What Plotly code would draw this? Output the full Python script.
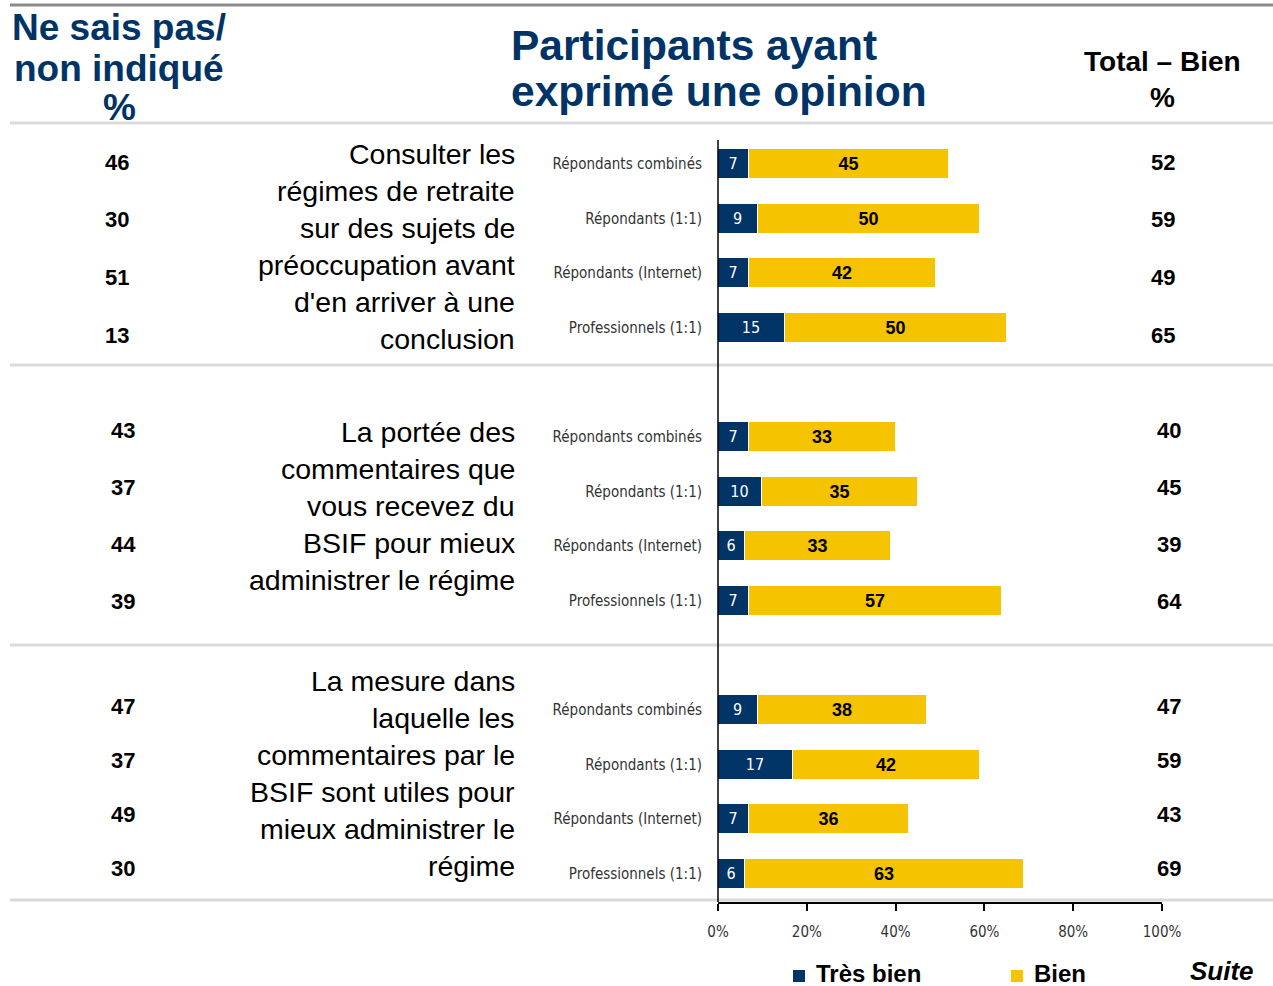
import plotly.graph_objects as go

# ---- data -------------------------------------------------------------
categories = ["Répondants combinés", "Répondants (1:1)",
              "Répondants (Internet)", "Professionnels (1:1)"]

questions = [
    ["Consulter les", "régimes de retraite", "sur des sujets de",
     "préoccupation avant", "d'en arriver à une", "conclusion"],
    ["La portée des", "commentaires que", "vous recevez du",
     "BSIF pour mieux", "administrer le régime"],
    ["La mesure dans", "laquelle les", "commentaires par le",
     "BSIF sont utiles pour", "mieux administrer le", "régime"],
]

tres_bien = [[7, 9, 7, 15], [7, 10, 6, 7], [9, 17, 7, 6]]
bien = [[45, 50, 42, 50], [33, 35, 33, 57], [38, 42, 36, 63]]
ne_sais_pas = [[46, 30, 51, 13], [43, 37, 44, 39], [47, 37, 49, 30]]
total_bien = [[52, 59, 49, 65], [40, 45, 39, 64], [47, 59, 43, 69]]

series_names = ["Très bien", "Bien"]

x_ticks = [0, 20, 40, 60, 80, 100]
x_tick_labels = ["0%", "20%", "40%", "60%", "80%", "100%"]

# ---- styling / geometry -------------------------------------------------
W, H = 1273, 986
NAVY = "#003366"
YELLOW = "#F6C300"
SEP = "#dadada"
ARIAL = "Liberation Sans, Arial, sans-serif"
NARROW = "DejaVu Sans Condensed, Liberation Sans Narrow, sans-serif"

AXIS_BOTTOM = 902          # pixel row of the x axis
X0, X100 = 718, 1162       # pixel columns of 0% and 100%


def px(x):
    return x / W


def py(y):
    return 1 - y / H


# bar rows (pixel rows inside the y axis, which runs top-down in pixels)
group_top = [164, 437, 710]
row_step = 54.5
bar_y = [[g + i * row_step for i in range(4)] for g in group_top]

flat_y = [y for g in bar_y for y in g]
flat_tb = [v for g in tres_bien for v in g]
flat_b = [v for g in bien for v in g]
flat_cat = [c for _ in range(3) for c in categories]

fig = go.Figure()
fig.add_trace(go.Bar(
    name=series_names[0], orientation="h", y=flat_y, x=flat_tb, width=30,
    marker=dict(color=NAVY, line=dict(color="white", width=1)),
    text=flat_tb, textposition="inside", insidetextanchor="middle",
    constraintext="none",
    textfont=dict(family=NARROW, size=16, color="white"),
))
fig.add_trace(go.Bar(
    name=series_names[1], orientation="h", y=flat_y, x=flat_b, width=30,
    marker=dict(color=YELLOW, line=dict(color="white", width=1)),
    text=flat_b, textposition="inside", insidetextanchor="middle",
    constraintext="none",
    textfont=dict(family=ARIAL, size=18, color="black", weight="bold"),
))

fig.update_layout(
    width=W, height=H, margin=dict(l=0, r=0, t=0, b=0, autoexpand=False),
    paper_bgcolor="white", plot_bgcolor="white",
    barmode="stack", bargap=0, showlegend=False,
    xaxis=dict(
        domain=[px(X0), px(X100)], range=[0, 100], fixedrange=True,
        tickvals=x_ticks, ticktext=x_tick_labels,
        showgrid=False, zeroline=False,
        showline=True, linecolor="black", linewidth=1.5,
        ticks="outside", ticklen=7, tickcolor="black", tickwidth=1.5,
        ticklabelstandoff=8,
        tickfont=dict(family=NARROW, size=15, color="#333333"),
    ),
    yaxis=dict(
        domain=[1 - AXIS_BOTTOM / H, 1], range=[AXIS_BOTTOM, 0],
        fixedrange=True,
        tickvals=flat_y, ticktext=flat_cat,
        showgrid=False, zeroline=False, showline=False, ticks="",
        ticklabelstandoff=15,
        tickfont=dict(family=NARROW, size=15, color="#333333"),
    ),
)

shapes = []
# top rule and section separators
shapes.append(dict(type="line", xref="paper", yref="paper",
                   x0=px(10), x1=1, y0=py(5), y1=py(5),
                   line=dict(color="#8c8c8c", width=3)))
for y in [123, 365, 645, 900]:
    shapes.append(dict(type="line", xref="paper", yref="paper",
                       x0=px(10), x1=1, y0=py(y), y1=py(y),
                       line=dict(color=SEP, width=3), layer="below"))
# vertical baseline of the bars
shapes.append(dict(type="line", xref="paper", yref="paper",
                   x0=px(X0), x1=px(X0), y0=py(140), y1=py(AXIS_BOTTOM),
                   line=dict(color="black", width=1.5)))

ann = []


def text(x, y, s, size, color="black", bold=False, anchor="center",
         family=ARIAL, italic=False):
    ann.append(dict(
        xref="paper", yref="paper", x=px(x), y=py(y), text=s,
        showarrow=False, xanchor=anchor, yanchor="middle",
        align=anchor if anchor != "center" else "center",
        font=dict(family=family, size=size, color=color,
                  weight="bold" if bold else "normal",
                  style="italic" if italic else "normal"),
    ))


# column headers
for s, y in zip(["Ne sais pas/", "non indiqué", "%"], [27, 68, 108]):
    text(119, y, s, 37, NAVY, bold=True)
for s, y in zip(["Participants ayant", "exprimé une opinion"], [45, 91]):
    text(509, y, s, 42.5, NAVY, bold=True, anchor="left")
for s, y in zip(["Total – Bien", "%"], [61, 97]):
    text(1162, y, s, 28, "black", bold=True)

# question wording, right aligned next to the bars
q_first_line = [154, 432, 681]
q_step = 36.9
for g, lines in enumerate(questions):
    for i, s in enumerate(lines):
        text(517, q_first_line[g] + i * q_step, s, 28.5, "black", anchor="right")

# side columns: don't know / total good
side_rows = [[162, 219, 277, 335], [430, 487, 544, 601], [706, 760, 814, 868]]
left_x = [117, 123, 123]
right_x = [1163, 1169, 1169]
for g in range(3):
    for i in range(4):
        text(left_x[g], side_rows[g][i], str(ne_sais_pas[g][i]), 22, bold=True)
        text(right_x[g], side_rows[g][i], str(total_bien[g][i]), 22, bold=True)

# legend keys
for name, color, x in zip(series_names, [NAVY, YELLOW], [793, 1011]):
    shapes.append(dict(type="rect", xref="paper", yref="paper",
                       x0=px(x), x1=px(x + 12), y0=py(982), y1=py(970),
                       fillcolor=color, line=dict(width=0)))
    text(x + 21, 973, name, 24, "black", bold=True, anchor="left")

text(1222, 971, "Suite", 26, "black", bold=True, italic=True)

fig.update_layout(shapes=shapes, annotations=ann)
fig.write_html("out.html")
